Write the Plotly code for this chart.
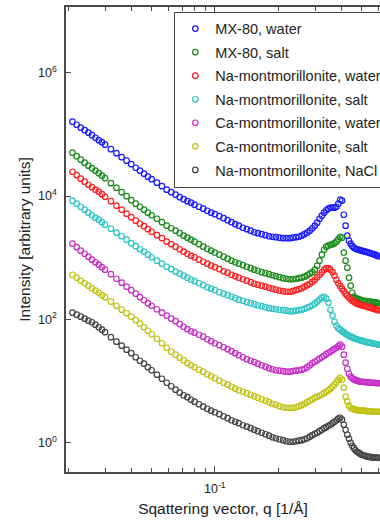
import plotly.graph_objects as go

# Scattering vector q [1/Å]
q = [0.021, 0.022, 0.023, 0.024, 0.025, 0.026, 0.027, 0.028, 0.029, 0.030,
     0.032, 0.034, 0.036, 0.038, 0.040, 0.042, 0.044, 0.046, 0.048, 0.050,
     0.053, 0.056, 0.059, 0.062, 0.065, 0.068, 0.071, 0.074, 0.077, 0.080,
     0.084, 0.088, 0.092, 0.096, 0.100, 0.105, 0.110, 0.115, 0.120, 0.125,
     0.130, 0.136, 0.142, 0.148, 0.154, 0.160, 0.167, 0.174, 0.181, 0.188,
     0.195, 0.203, 0.211, 0.219, 0.227, 0.235, 0.243, 0.251, 0.259, 0.267,
     0.275, 0.283, 0.291, 0.299, 0.307, 0.315, 0.323, 0.331, 0.339, 0.347,
     0.355, 0.363, 0.371, 0.379, 0.387, 0.395, 0.403, 0.411, 0.419, 0.427,
     0.435, 0.443, 0.451, 0.459, 0.467, 0.475, 0.483, 0.491, 0.499, 0.51,
     0.52, 0.53, 0.54, 0.55, 0.56, 0.57, 0.58, 0.59, 0.60, 0.62]

# log10 of intensity [arbitrary units]
log_mx80_water = [5.206, 5.157, 5.109, 5.068, 5.028, 4.987, 4.946, 4.906, 4.873, 4.833,
                  4.760, 4.695, 4.630, 4.573, 4.516, 4.459, 4.411, 4.362, 4.313, 4.273,
                  4.216, 4.159, 4.102, 4.062, 4.021, 3.981, 3.948, 3.916, 3.891, 3.859,
                  3.826, 3.794, 3.761, 3.729, 3.705, 3.672, 3.640, 3.607, 3.575, 3.542,
                  3.518, 3.485, 3.461, 3.437, 3.412, 3.396, 3.380, 3.364, 3.347, 3.339,
                  3.331, 3.323, 3.315, 3.315, 3.315, 3.323, 3.331, 3.339, 3.356, 3.380,
                  3.404, 3.437, 3.477, 3.518, 3.567, 3.631, 3.680, 3.729, 3.769, 3.794,
                  3.810, 3.810, 3.810, 3.826, 3.875, 3.940, 3.924, 3.696, 3.518, 3.356,
                  3.274, 3.226, 3.185, 3.161, 3.144, 3.136, 3.128, 3.120, 3.112, 3.104,
                  3.096, 3.088, 3.080, 3.071, 3.063, 3.055, 3.047, 3.031, 3.023, 3.015]

log_mx80_salt = [4.703, 4.646, 4.589, 4.541, 4.492, 4.451, 4.411, 4.370, 4.330, 4.289,
                 4.208, 4.135, 4.062, 3.997, 3.932, 3.875, 3.826, 3.778, 3.729, 3.688,
                 3.631, 3.575, 3.518, 3.477, 3.437, 3.396, 3.356, 3.323, 3.291, 3.258,
                 3.218, 3.177, 3.144, 3.112, 3.080, 3.047, 3.015, 2.982, 2.950, 2.925,
                 2.901, 2.877, 2.852, 2.828, 2.804, 2.787, 2.763, 2.747, 2.731, 2.714,
                 2.698, 2.682, 2.666, 2.657, 2.649, 2.649, 2.657, 2.666, 2.674, 2.690,
                 2.714, 2.739, 2.763, 2.804, 2.869, 2.950, 3.047, 3.128, 3.177, 3.193,
                 3.209, 3.218, 3.234, 3.258, 3.299, 3.339, 3.323, 3.080, 2.950, 2.836,
                 2.674, 2.544, 2.430, 2.365, 2.341, 2.333, 2.325, 2.317, 2.308, 2.300,
                 2.300, 2.292, 2.284, 2.284, 2.276, 2.276, 2.268, 2.268, 2.260, 2.252]

log_na_water = [4.394, 4.338, 4.281, 4.232, 4.183, 4.143, 4.102, 4.070, 4.029, 3.989,
                3.916, 3.843, 3.778, 3.713, 3.656, 3.599, 3.550, 3.510, 3.461, 3.420,
                3.364, 3.315, 3.258, 3.218, 3.177, 3.136, 3.096, 3.063, 3.031, 3.006,
                2.966, 2.933, 2.901, 2.869, 2.844, 2.812, 2.779, 2.755, 2.722, 2.698,
                2.674, 2.649, 2.625, 2.601, 2.576, 2.560, 2.544, 2.528, 2.511, 2.495,
                2.479, 2.463, 2.455, 2.446, 2.446, 2.455, 2.471, 2.487, 2.503, 2.528,
                2.552, 2.576, 2.609, 2.641, 2.682, 2.722, 2.763, 2.804, 2.828, 2.828,
                2.804, 2.763, 2.706, 2.641, 2.584, 2.536, 2.495, 2.455, 2.414, 2.381,
                2.349, 2.325, 2.300, 2.284, 2.268, 2.252, 2.244, 2.235, 2.227, 2.219,
                2.211, 2.203, 2.195, 2.187, 2.179, 2.170, 2.162, 2.154, 2.146, 2.138]

log_na_salt = [3.924, 3.875, 3.826, 3.778, 3.729, 3.688, 3.648, 3.615, 3.575, 3.534,
               3.469, 3.404, 3.347, 3.291, 3.234, 3.185, 3.136, 3.096, 3.047, 3.006,
               2.950, 2.901, 2.852, 2.812, 2.771, 2.739, 2.706, 2.674, 2.641, 2.617,
               2.584, 2.552, 2.519, 2.495, 2.471, 2.438, 2.414, 2.390, 2.365, 2.341,
               2.317, 2.300, 2.276, 2.260, 2.244, 2.227, 2.211, 2.195, 2.179, 2.170,
               2.162, 2.154, 2.146, 2.138, 2.130, 2.130, 2.138, 2.146, 2.154, 2.170,
               2.187, 2.203, 2.227, 2.252, 2.284, 2.317, 2.349, 2.365, 2.333, 2.268,
               2.154, 2.057, 1.959, 1.894, 1.854, 1.830, 1.805, 1.789, 1.765, 1.748,
               1.732, 1.716, 1.708, 1.692, 1.683, 1.675, 1.667, 1.659, 1.651, 1.643,
               1.635, 1.627, 1.619, 1.619, 1.610, 1.602, 1.602, 1.594, 1.586, 1.578]

log_ca_water = [3.226, 3.169, 3.112, 3.063, 3.015, 2.966, 2.925, 2.885, 2.844, 2.804,
                2.731, 2.657, 2.593, 2.528, 2.471, 2.414, 2.357, 2.308, 2.260, 2.219,
                2.162, 2.106, 2.057, 2.008, 1.968, 1.919, 1.878, 1.838, 1.805, 1.781,
                1.748, 1.716, 1.675, 1.643, 1.610, 1.578, 1.545, 1.513, 1.481, 1.448,
                1.416, 1.383, 1.351, 1.326, 1.302, 1.278, 1.253, 1.229, 1.205, 1.188,
                1.172, 1.164, 1.156, 1.148, 1.148, 1.156, 1.164, 1.172, 1.180, 1.196,
                1.221, 1.253, 1.286, 1.310, 1.334, 1.359, 1.383, 1.407, 1.432, 1.456,
                1.472, 1.497, 1.521, 1.537, 1.562, 1.586, 1.554, 1.424, 1.294, 1.196,
                1.115, 1.067, 1.042, 1.026, 1.010, 1.002, 0.994, 0.985, 0.985, 0.985,
                0.977, 0.977, 0.977, 0.969, 0.969, 0.969, 0.969, 0.961, 0.961, 0.961]

log_ca_salt = [2.722, 2.674, 2.625, 2.584, 2.544, 2.503, 2.463, 2.430, 2.390, 2.357,
               2.284, 2.219, 2.154, 2.097, 2.041, 1.984, 1.927, 1.870, 1.813, 1.756,
               1.683, 1.610, 1.537, 1.472, 1.424, 1.375, 1.334, 1.286, 1.253, 1.221,
               1.180, 1.148, 1.107, 1.075, 1.042, 1.002, 0.969, 0.937, 0.904, 0.872,
               0.847, 0.823, 0.799, 0.774, 0.750, 0.726, 0.701, 0.677, 0.653, 0.628,
               0.612, 0.588, 0.571, 0.563, 0.563, 0.563, 0.571, 0.588, 0.604, 0.628,
               0.653, 0.677, 0.701, 0.726, 0.742, 0.758, 0.782, 0.799, 0.823, 0.847,
               0.872, 0.904, 0.937, 0.977, 1.018, 1.050, 1.018, 0.888, 0.742, 0.661,
               0.596, 0.563, 0.547, 0.539, 0.531, 0.523, 0.523, 0.515, 0.515, 0.515,
               0.515, 0.506, 0.506, 0.506, 0.506, 0.498, 0.498, 0.498, 0.498, 0.498]

log_na_nacl = [2.106, 2.073, 2.041, 2.008, 1.976, 1.951, 1.911, 1.870, 1.830, 1.789,
               1.708, 1.635, 1.570, 1.505, 1.448, 1.383, 1.326, 1.278, 1.221, 1.172,
               1.099, 1.034, 0.969, 0.912, 0.856, 0.807, 0.766, 0.734, 0.693, 0.661,
               0.620, 0.580, 0.547, 0.515, 0.490, 0.458, 0.425, 0.393, 0.360, 0.336,
               0.312, 0.279, 0.255, 0.231, 0.206, 0.182, 0.157, 0.133, 0.109, 0.084,
               0.068, 0.052, 0.036, 0.019, 0.011, 0.011, 0.019, 0.028, 0.036, 0.052,
               0.068, 0.093, 0.117, 0.141, 0.157, 0.182, 0.206, 0.231, 0.247, 0.271,
               0.287, 0.312, 0.336, 0.360, 0.385, 0.401, 0.369, 0.287, 0.206, 0.125,
               0.060, -0.005, -0.054, -0.094, -0.127, -0.151, -0.167, -0.183, -0.200, -0.208,
               -0.216, -0.232, -0.232, -0.240, -0.240, -0.248, -0.248, -0.248, -0.248, -0.256]

series_names = ["MX-80, water", "MX-80, salt", "Na-montmorillonite, water",
                "Na-montmorillonite, salt", "Ca-montmorillonite, water",
                "Ca-montmorillonite, salt", "Na-montmorillonite, NaCl"]
series_logs = [log_mx80_water, log_mx80_salt, log_na_water, log_na_salt,
               log_ca_water, log_ca_salt, log_na_nacl]
series_colors = ["#1a1aff", "#1c8a1c", "#ff1f1f", "#30c4c4", "#c62ec6", "#c2c214", "#444444"]

y_tickvals = [1, 100, 1e4, 1e6]
y_ticktext = ["10<sup>0</sup>", "10<sup>2</sup>", "10<sup>4</sup>", "10<sup>6</sup>"]
x_tickvals = [0.1]
x_ticktext = ["10<sup>-1</sup>"]
x_minor = [0.02, 0.03, 0.04, 0.05, 0.06, 0.07, 0.08, 0.09, 0.2, 0.3, 0.4, 0.5, 0.6]

fig = go.Figure()
for name, logs, col in zip(series_names, series_logs, series_colors):
    fig.add_trace(go.Scatter(
        x=q, y=[10 ** v for v in logs], mode="markers", name=name,
        legendgroup=name,
        marker=dict(symbol="circle-open", size=5.5, color=col, line=dict(width=1.2, color=col)),
    ))

axis_color = "#4a4a4a"
font_family = "Liberation Sans, Arial, sans-serif"
text_color = "#222222"

fig.update_layout(
    width=380, height=521,
    margin=dict(l=66, r=0, t=7, b=49, autoexpand=False),
    paper_bgcolor="white", plot_bgcolor="white",
    font=dict(family=font_family, size=12, color=text_color),
    showlegend=True,
    legend=dict(x=0.345, y=0.99, xanchor="left", yanchor="top",
                bgcolor="white", bordercolor="#444444", borderwidth=1,
                font=dict(size=14.5, color=text_color),
                traceorder="grouped", tracegroupgap=1.7, itemwidth=30),
    xaxis=dict(type="log", range=[-1.7086, -0.214],
               showgrid=False, zeroline=False,
               showline=True, linecolor=axis_color, linewidth=1.5, mirror="ticks",
               ticks="inside", ticklen=6, tickcolor=axis_color, tickwidth=1,
               tickvals=x_tickvals, ticktext=x_ticktext, ticklabelstandoff=4,
               tickfont=dict(size=12.5, color=text_color),
               minor=dict(tickvals=x_minor, ticks="inside", ticklen=4,
                          tickcolor=axis_color, tickwidth=1, showgrid=False),
               title=dict(text="Sqattering vector, q [1/Å]", font=dict(size=15.5, color=text_color),
                          standoff=8)),
    yaxis=dict(type="log", range=[-0.48, 7.068],
               showgrid=False, zeroline=False,
               showline=True, linecolor=axis_color, linewidth=1.5, mirror=False,
               ticks="inside", ticklen=5, tickcolor=axis_color, tickwidth=1,
               tickvals=y_tickvals, ticktext=y_ticktext, ticklabelstandoff=5,
               tickfont=dict(size=12.5, color=text_color),
               title=dict(text="Intensity [arbitrary units]", font=dict(size=15.5, color=text_color),
                          standoff=4)),
)

fig.write_html("out.html", config={"displayModeBar": False},
               post_script="document.body.style.margin='0';document.body.style.overflow='hidden';")
